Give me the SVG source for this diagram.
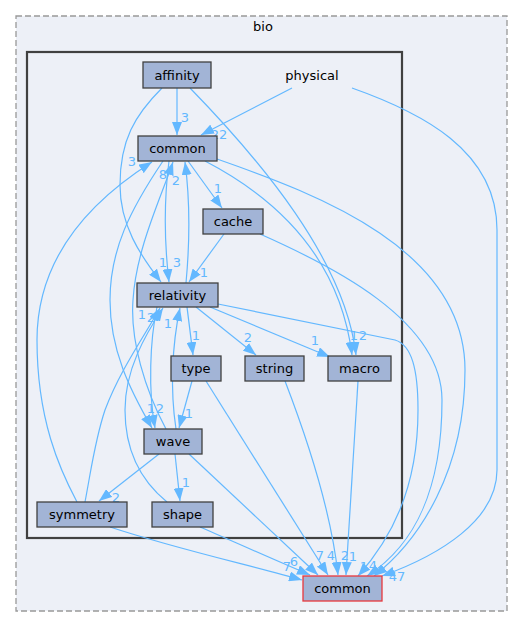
<svg xmlns="http://www.w3.org/2000/svg" width="525" height="628" viewBox="0 0 525 628">
<style>
.n rect{fill:#a2b4d6;stroke:#404040;stroke-width:1.3}
text{font-family:"DejaVu Sans",sans-serif;font-size:13px}
.t{fill:#000;text-anchor:middle}
.e path{fill:none;stroke:#63b8ff;stroke-width:1.2;marker-end:url(#a)}
.l text{fill:#63b8ff;text-anchor:middle}
</style>
<defs>
<marker id="a" markerUnits="userSpaceOnUse" markerWidth="13" markerHeight="10" refX="13" refY="5" orient="auto"><path d="M0,0 L13,5 L0,10 z" fill="#63b8ff"/></marker>
</defs>
<rect width="525" height="628" fill="#fff"/>
<g id="cluster_bio">
<rect x="16" y="16" width="491" height="595" fill="#edf0f7" stroke="#999" stroke-width="1.3" stroke-dasharray="6,3"/>
<text class="t" x="263" y="31">bio</text>
</g>
<g id="cluster_physical">
<rect x="27" y="52" width="375" height="486" fill="#edf0f7" stroke="#404040" stroke-width="2.2"/>
</g>
<g class="e" id="edges">
<path d="M177,88 L177,135"/>
<path d="M162,88 C135,115 120,140 120,185 C120,225 140,255 161,282"/>
<path d="M292,88 L201,135"/>
<path d="M352,88 C420,112 497,150 497,230 L497,470 C497,520 440,555 382,576"/>
<path d="M188,161 L222,208"/>
<path d="M224,234 L189,282"/>
<path d="M260,234 C330,265 442,320 442,400 C442,490 415,545 367,576"/>
<path d="M217,159 C320,195 465,250 465,370 C465,470 420,540 374,576"/>
<path d="M218,304 L395,340 C412,345 418,370 418,410 C418,490 390,540 358,576"/>
<path d="M190,88 C260,160 345,260 356,355"/>
<path d="M205,161 C280,200 340,260 352,355"/>
<path d="M169,161 C164,200 164,240 169,282"/>
<path d="M186,283 C190,240 190,200 185,162"/>
<path d="M77,502 C60,470 37,420 37,340 C37,250 100,195 152,162"/>
<path d="M85,502 C92,465 95,440 105,410 C120,370 145,335 160,308"/>
<path d="M167,502 C140,480 125,450 125,410 C125,370 145,335 163,308"/>
<path d="M176,429 C170,390 172,345 180,308"/>
<path d="M166,429 C145,390 130,340 133,300 C136,250 160,200 173,162"/>
<path d="M157,307 C150,340 148,390 155,428"/>
<path d="M163,161 C130,210 110,250 110,300 C110,350 130,390 152,428"/>
<path d="M187,307 L193,355"/>
<path d="M196,307 L256,355"/>
<path d="M210,307 L330,357"/>
<path d="M192,381 L179,428"/>
<path d="M206,381 L328,575"/>
<path d="M285,381 C300,420 330,500 338,575"/>
<path d="M358,381 L346,575"/>
<path d="M159,454 L99,501"/>
<path d="M175,454 L180,501"/>
<path d="M189,454 L318,575"/>
<path d="M110,527 C180,550 250,565 302,580"/>
<path d="M200,527 C230,540 270,558 310,575"/>
</g>
<g class="l" id="edge-labels">
<text x="185" y="122">3</text>
<text x="219" y="139">22</text>
<text x="163" y="267">1</text>
<text x="177" y="267">3</text>
<text x="163" y="179">8</text>
<text x="176" y="185">2</text>
<text x="132" y="166">3</text>
<text x="218" y="193">1</text>
<text x="204" y="277">1</text>
<text x="142" y="319">1</text>
<text x="151" y="322">2</text>
<text x="168" y="328">1</text>
<text x="196" y="340">1</text>
<text x="248" y="342">2</text>
<text x="315" y="345">1</text>
<text x="354" y="340">1</text>
<text x="363" y="340">2</text>
<text x="151" y="413">1</text>
<text x="160" y="413">2</text>
<text x="189" y="418">1</text>
<text x="116" y="502">2</text>
<text x="186" y="487">1</text>
<text x="287" y="571">7</text>
<text x="294" y="566">6</text>
<text x="320" y="560">7</text>
<text x="331" y="560">4</text>
<text x="345" y="560">2</text>
<text x="353" y="561">1</text>
<text x="364" y="571">1</text>
<text x="373" y="570">4</text>
<text x="397" y="581">47</text>
</g>
<g id="node_affinity" class="n"><rect x="143" y="62" width="68" height="26"/><text class="t" x="177" y="79.5">affinity</text></g>
<g id="node_physical"><text class="t" x="312" y="79.5">physical</text></g>
<g id="node_common_inner" class="n"><rect x="138" y="136" width="79" height="25"/><text class="t" x="177.5" y="153">common</text></g>
<g id="node_cache" class="n"><rect x="203" y="209" width="60" height="25"/><text class="t" x="233" y="226">cache</text></g>
<g id="node_relativity" class="n"><rect x="137" y="283" width="81" height="24"/><text class="t" x="177.5" y="299.5">relativity</text></g>
<g id="node_type" class="n"><rect x="171" y="356" width="50" height="25"/><text class="t" x="196" y="373">type</text></g>
<g id="node_string" class="n"><rect x="245" y="356" width="59" height="25"/><text class="t" x="274.5" y="373">string</text></g>
<g id="node_macro" class="n"><rect x="328" y="356" width="63" height="25"/><text class="t" x="359.5" y="373">macro</text></g>
<g id="node_wave" class="n"><rect x="144" y="429" width="58" height="25"/><text class="t" x="173" y="446">wave</text></g>
<g id="node_symmetry" class="n"><rect x="37" y="502" width="90" height="25"/><text class="t" x="82" y="519">symmetry</text></g>
<g id="node_shape" class="n"><rect x="152" y="502" width="61" height="25"/><text class="t" x="182.5" y="519">shape</text></g>
<g id="node_common_outer" class="n"><rect x="303" y="576" width="79" height="25" style="stroke:#e8383d"/><text class="t" x="342.5" y="593">common</text></g>
</svg>
